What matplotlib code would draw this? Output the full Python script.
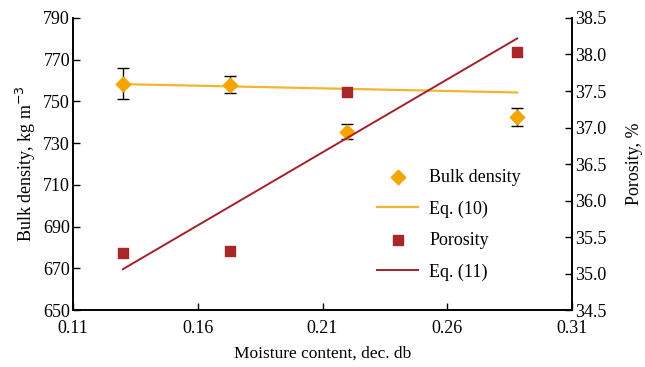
import numpy as np
import matplotlib.pyplot as plt

plt.rcParams['font.family'] = ['Liberation Serif', 'DejaVu Serif']

# Moisture content (dec. db)
moisture = [0.130, 0.173, 0.220, 0.288]
# Bulk density, kg m^-3, with error bars
bulk_density = [758.5, 758.0, 735.5, 742.5]
bulk_err = [7.5, 4.0, 3.5, 4.5]
# Porosity, %
porosity = [35.28, 35.31, 37.48, 38.04]

# Fitted lines (end points of each equation)
eq10_x = [0.130, 0.288]
eq10_y = [758.3, 754.3]
eq11_x = [0.130, 0.288]
eq11_y = [35.06, 38.22]

orange = '#F5A500'
orange_line = '#F2B530'
red = '#A8282A'
red_line = '#A3202C'

fig = plt.figure(figsize=(6.45, 3.67), dpi=100)
ax1 = fig.add_axes([0.113, 0.155, 0.774, 0.796])
ax2 = ax1.twinx()

ax1.errorbar(moisture, bulk_density, yerr=bulk_err, fmt='none', ecolor='black',
             elinewidth=1.0, capsize=4, capthick=1.0, zorder=2)
ax1.plot(eq10_x, eq10_y, color=orange_line, lw=1.6, zorder=3)
ax1.scatter(moisture, bulk_density, marker='D', s=55, color=orange, zorder=4)

ax2.plot(eq11_x, eq11_y, color=red_line, lw=1.4, zorder=3)
ax2.scatter(moisture, porosity, marker='s', s=60, color=red, zorder=4)

ax1.set_xlim(0.11, 0.31)
ax1.set_ylim(650, 790)
ax2.set_ylim(34.5, 38.5)
ax1.set_xticks([0.11, 0.16, 0.21, 0.26, 0.31])
ax1.set_xticklabels(['0.11', '0.16', '0.21', '0.26', '0.31'])
ax1.set_yticks(np.arange(650, 791, 20))
ax2.set_yticks(np.arange(34.5, 38.51, 0.5))
ax2.set_yticklabels([f'{v:.1f}' for v in np.arange(34.5, 38.51, 0.5)])

for ax in (ax1, ax2):
    ax.tick_params(direction='in', length=5, width=1.0, labelsize=13, pad=2)
    ax.spines['top'].set_visible(False)
    for s in ax.spines.values():
        s.set_linewidth(1.2)
ax1.tick_params(axis='x', pad=7)

ax1.set_xlabel('Moisture content, dec. db', fontsize=12.5, labelpad=6)
ax1.set_ylabel('Bulk density, kg m$^{-3}$', fontsize=13, labelpad=4)
ax2.set_ylabel('Porosity, %', fontsize=13, labelpad=14)

h1 = ax1.scatter([], [], marker='D', s=55, color=orange)
h2, = ax1.plot([], [], color=orange_line, lw=1.6)
h3 = ax1.scatter([], [], marker='s', s=60, color=red)
h4, = ax1.plot([], [], color=red_line, lw=1.4)
ax1.legend([h1, h2, h3, h4], ['Bulk density', 'Eq. (10)', 'Porosity', 'Eq. (11)'],
           loc='lower right', bbox_to_anchor=(0.93, 0.045), frameon=False,
           fontsize=13, handlelength=2.3, handletextpad=0.6, labelspacing=0.8)

fig.savefig('out.png', dpi=100)
